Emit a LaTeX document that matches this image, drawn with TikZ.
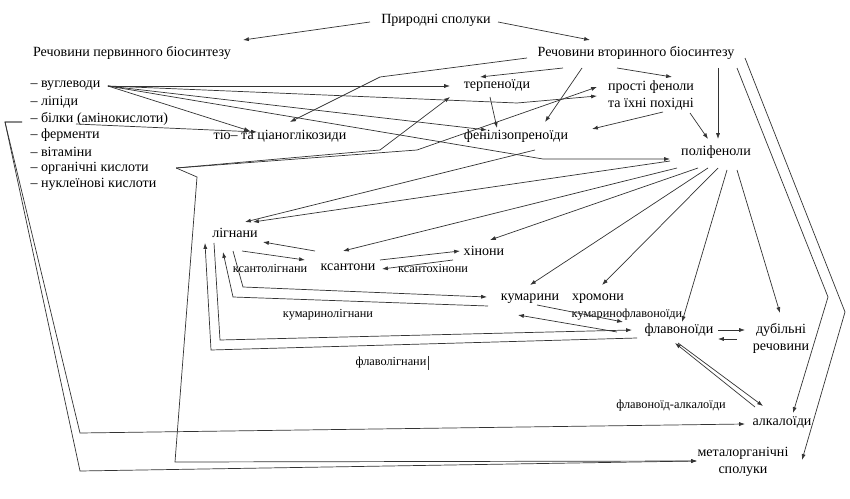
\documentclass[tikz,border=0pt]{standalone}
\usepackage{fontspec}
\setmainfont{Liberation Serif}
\usetikzlibrary{arrows.meta}

\tikzset{small/.style={font=\fontsize{10.5}{12}\selectfont}}

\begin{document}
\begin{tikzpicture}[x=0.3mm,y=-0.3mm,line width=0.6pt,draw=black!80,inner sep=1pt,
  >={Latex[length=5pt,width=3.5pt]},font=\fontsize{12}{14.5}\selectfont]
  \useasboundingbox (0,0) rectangle (850,499);
  \node (pryr) at (436,20) {Природні сполуки};
  \node (perv) at (132,53) {Речовини первинного біосинтезу};
  \node (vtor) at (636,53) {Речовини вторинного біосинтезу};
  \node[anchor=west] (vug) at (29,86) {– вуглеводи};
  \node[anchor=west] (lip) at (29,102) {– ліпіди};
  \node[anchor=west] (bilk) at (29,119) {– білки (амінокислоти)};
  \node[anchor=west] (ferm) at (29,135) {– ферменти};
  \node[anchor=west] (vit) at (29,152) {– вітаміни};
  \node[anchor=west] (org) at (29,168) {– органічні кислоти};
  \node[anchor=west] (nukl) at (29,184) {– нуклеїнові кислоти};
  \node (tio) at (280,136) {тіо– та ціаноглікозиди};
  \node (terp) at (497,86) {терпеноїди};
  \node[align=center] (prost) at (651,95) {прості феноли\\та їхні похідні};
  \node (fen) at (516,136) {фенілізопреноїди};
  \node (polif) at (716,152) {поліфеноли};
  \node (lign) at (235,233) {лігнани};
  \node (ksant) at (348,267) {ксантони};
  \node (khin) at (484,251) {хінони};
  \node (kum) at (530,299) {кумарини};
  \node (khrom) at (598,299) {хромони};
  \node (flav) at (679,330) {флавоноїди};
  \node[align=center] (dub) at (781,338) {дубільні\\речовини};
  \node (alk) at (782,422) {алкалоїди};
  \node[align=center] (metal) at (743,462) {металорганічні\\сполуки};
  \node[small] (ksl) at (270,268) {ксантолігнани};
  \node[small] (ksh) at (433,268) {ксантохінони};
  \node[small] (kml) at (328,315) {кумаринолігнани};
  \node[small] (kmf) at (627,315) {кумаринофлавоноїди};
  \node[small] (fll) at (391,363) {флаволігнани};
  \node[small] (fla) at (671,406) {флавоноїд-алкалоїди};
  \draw (fll.north east) -- (fll.south east);

  \draw[->] ([shift={(-66,2)}]pryr.center) -- ([shift={(111,-13)}]perv.center);
  \draw[->] ([shift={(62,2)}]pryr.center) -- ([shift={(-46,-13)}]vtor.center);

  \draw[->] ([shift={(6,0)}]vug.east) -- ([shift={(-47,0)}]terp.center);
  \draw[->] ([shift={(6,0)}]vug.east) -- (517,103) -- ([shift={(-54,1)}]prost.center);
  \draw[->] ([shift={(6,0)}]vug.east) -- ([shift={(-29,-6)}]fen.center);
  \draw[->] ([shift={(6,0)}]vug.east) -- (543,159) -- ([shift={(-46,7)}]polif.center);
  \draw[->] ([shift={(6,0)}]vug.east) -- ([shift={(-30,-5)}]tio.center);
  \draw[->] ([shift={(47,5)}]bilk.west) -- ([shift={(-23,-4)}]tio.center);
  \draw[->] ([shift={(-7,3)}]bilk.west) -- (5,122) -- (80,433) -- ([shift={(-37,2)}]alk.center);
  \draw[->] ([shift={(-7,3)}]bilk.west) -- (5,122) -- (80,471) -- ([shift={(-46,-1)}]metal.center);
  \draw[->] ([shift={(26,0)}]org.east) -- (380,150) -- ([shift={(-47,11)}]terp.center);
  \draw[->] ([shift={(26,0)}]org.east) -- (417,150) -- ([shift={(-54,-8)}]prost.center);
  \draw[->] ([shift={(26,0)}]org.east) -- (197,177) -- (175,462) -- ([shift={(-46,-1)}]metal.center);

  \draw[->] ([shift={(-109,5)}]vtor.center) -- (380,77) -- ([shift={(10,-14)}]tio.center);
  \draw[->] ([shift={(-73,15)}]vtor.center) -- ([shift={(-17,-9)}]terp.center);
  \draw[->] ([shift={(-54,15)}]vtor.center) -- ([shift={(29,-14)}]fen.center);
  \draw[->] ([shift={(-19,15)}]vtor.center) -- ([shift={(21,-18)}]prost.center);
  \draw[->] ([shift={(82,15)}]vtor.center) -- ([shift={(2,-13)}]polif.center);
  \draw[->] ([shift={(101,15)}]vtor.center) -- (828,297) -- ([shift={(11,-9)}]alk.center);
  \draw[->] ([shift={(109,5)}]vtor.center) -- (845,312) -- ([shift={(59,-2)}]metal.center);
  \draw[->] ([shift={(-7,11)}]terp.center) -- ([shift={(-19,-8)}]fen.center);
  \draw[->] ([shift={(39,18)}]prost.center) -- ([shift={(-8,-13)}]polif.center);
  \draw[->] ([shift={(12,17)}]prost.center) -- ([shift={(76,-7)}]fen.center);
  \draw[->] ([shift={(19,14)}]fen.center) -- ([shift={(10,-11)}]lign.center);

  \draw[->] ([shift={(-46,9)}]polif.center) -- ([shift={(18,-11)}]lign.center);
  \draw[->] ([shift={(-39,16)}]polif.center) -- ([shift={(-5,-16)}]ksant.center);
  \draw[->] ([shift={(-18,16)}]polif.center) -- ([shift={(6,-11)}]khin.center);
  \draw[->] ([shift={(-8,16)}]polif.center) -- ([shift={(0,-14)}]kum.center);
  \draw[->] ([shift={(2,16)}]polif.center) -- ([shift={(4,-14)}]khrom.center);
  \draw[->] ([shift={(11,18)}]polif.center) -- ([shift={(3,-8)}]flav.center);
  \draw[->] ([shift={(21,18)}]polif.center) -- ([shift={(-1,-25)}]dub.center);

  \draw[->] ([shift={(-33,-16)}]ksant.center) -- ([shift={(28,9)}]lign.center);
  \draw[->] ([shift={(7,18)}]lign.center) -- ([shift={(-43,-7)}]ksant.center);
  \draw[->] ([shift={(32,-7)}]ksant.center) -- ([shift={(-24,0)}]khin.center);
  \draw[->] ([shift={(-31,9)}]khin.center) -- ([shift={(34,2)}]ksant.center);
  \draw[->] ([shift={(-2,18)}]lign.center) -- (243,287) -- ([shift={(-43,-2)}]kum.center);
  \draw[->] ([shift={(-42,7)}]kum.center) -- (233,297) -- ([shift={(-12,19)}]lign.center);
  \draw[->] ([shift={(-21,10)}]lign.center) -- (220,340) -- ([shift={(-47,0)}]flav.center);
  \draw[->] ([shift={(-42,8)}]flav.center) -- (211,350) -- ([shift={(-30,10)}]lign.center);
  \draw[->] ([shift={(7,6)}]kum.center) -- ([shift={(-56,-8)}]flav.center);
  \draw[->] ([shift={(-62,2)}]flav.center) -- ([shift={(-12,16)}]kum.center);
  \draw[->] ([shift={(39,0)}]flav.center) -- ([shift={(-36,-8)}]dub.center);
  \draw[->] ([shift={(-44,1)}]dub.center) -- ([shift={(39,9)}]flav.center);
  \draw[->] ([shift={(-27,-15)}]alk.center) -- ([shift={(-4,13)}]flav.center);
  \draw[->] ([shift={(-1,13)}]flav.center) -- ([shift={(-19,-16)}]alk.center);
\end{tikzpicture}
\end{document}
